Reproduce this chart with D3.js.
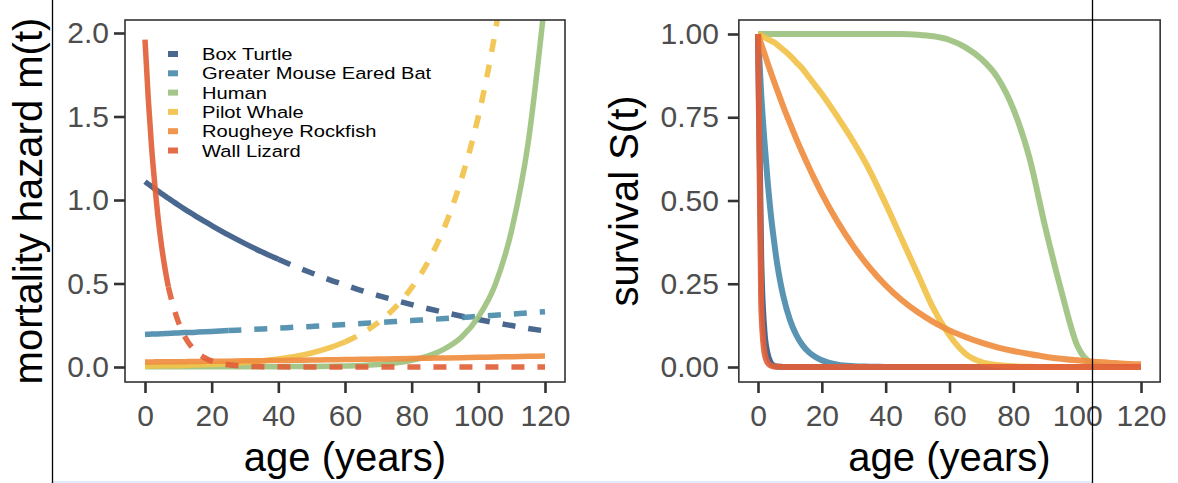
<!DOCTYPE html>
<html><head><meta charset="utf-8">
<script src="https://cdn.jsdelivr.net/npm/d3@7"></script>
<style>
body{margin:0;background:#fff;}
svg{display:block;font-family:"Liberation Sans",Arial,Helvetica,sans-serif;}
</style>
</head><body>
<script>
// ---------- data ----------
const ages = [0,1,2,3,4,5,6,7,8,10,12,14,16,18,20,25,30,35,40,45,50,55,60,65,70,75,80,85,90,95,100,105,110,115,120];
const species = ["Box Turtle","Greater Mouse Eared Bat","Human","Pilot Whale","Rougheye Rockfish","Wall Lizard"];
const speciesColors = ["#3b5b86","#4b8bab","#9dc17f","#f1c24a","#ef8d3f","#e1603a"];
const observedMaxAge = [40,25,120,60,120,7];

// mortality hazard m(t)
const hazardBoxTurtle = [1.110,1.095,1.081,1.066,1.052,1.038,1.024,1.010,0.997,0.970,0.944,0.919,0.894,0.870,0.847,0.791,0.739,0.690,0.645,0.602,0.563,0.525,0.491,0.458,0.428,0.400,0.373,0.349,0.326,0.304,0.284,0.265,0.248,0.231,0.216];
const hazardBat = [0.195,0.196,0.197,0.198,0.198,0.199,0.200,0.201,0.202,0.204,0.206,0.207,0.209,0.211,0.213,0.218,0.223,0.228,0.233,0.238,0.243,0.248,0.254,0.260,0.266,0.272,0.278,0.284,0.290,0.297,0.303,0.310,0.317,0.324,0.331];
const hazardHuman = [0.001,0.001,0.001,0.001,0.001,0.001,0.001,0.001,0.001,0.001,0.001,0.001,0.001,0.001,0.001,0.001,0.001,0.002,0.002,0.003,0.003,0.004,0.006,0.009,0.015,0.024,0.040,0.067,0.11,0.18,0.30,0.49,0.82,1.35,2.2];
const hazardPilotWhale = [0.005,0.005,0.006,0.006,0.006,0.007,0.007,0.007,0.008,0.008,0.009,0.011,0.012,0.014,0.015,0.020,0.027,0.036,0.048,0.063,0.084,0.113,0.150,0.200,0.267,0.356,0.475,0.633,0.845,1.13,1.50,2.00,2.67,3.56,4.75];
const hazardRockfish = [0.030,0.030,0.030,0.031,0.031,0.031,0.031,0.031,0.032,0.032,0.032,0.033,0.033,0.034,0.034,0.035,0.037,0.038,0.039,0.040,0.042,0.043,0.045,0.046,0.048,0.049,0.051,0.053,0.054,0.056,0.058,0.060,0.062,0.064,0.066];
const hazardWallLizard = [1.96,1.60,1.31,1.08,0.88,0.72,0.59,0.48,0.40,0.27,0.18,0.12,0.080,0.054,0.036,0.013,0.005,0.002,0.001,0,0,0,0,0,0,0,0,0,0,0,0,0,0,0,0];

// survival S(t)
const survivalBoxTurtle = [1,0.33,0.11,0.04,0.013,0.004,0.0015,0.0005,0.0002,0,0,0,0,0,0,0,0,0,0,0,0,0,0,0,0,0,0,0,0,0,0,0,0,0,0];
const survivalBat = [1,0.82,0.68,0.56,0.46,0.38,0.31,0.255,0.21,0.142,0.096,0.065,0.044,0.03,0.02,0.007,0.0025,0.001,0.0003,0,0,0,0,0,0,0,0,0,0,0,0,0,0,0,0];
const survivalHuman = [1,1,1,1,1,1,1,1,1,1,1,1,1,1,1,1,1,1,1,1,0.998,0.993,0.982,0.96,0.925,0.87,0.775,0.63,0.42,0.23,0.065,0.01,0.0005,0,0];
const survivalPilotWhale = [1,0.995,0.99,0.985,0.98,0.975,0.968,0.96,0.952,0.935,0.915,0.895,0.87,0.845,0.82,0.75,0.675,0.59,0.49,0.385,0.28,0.175,0.095,0.04,0.015,0.006,0.002,0.0005,0,0,0,0,0,0,0];
const survivalRockfish = [1,0.970,0.942,0.913,0.885,0.858,0.832,0.806,0.780,0.732,0.685,0.641,0.599,0.559,0.521,0.435,0.361,0.298,0.245,0.201,0.165,0.135,0.110,0.090,0.073,0.059,0.048,0.039,0.031,0.025,0.020,0.016,0.013,0.010,0.008];
const survivalWallLizard = [1,0.19,0.045,0.013,0.004,0.0015,0.0007,0.0004,0.0003,0.0002,0.0001,0.0001,0.0001,0.0001,0.0001,0.0001,0.0001,0.0001,0.0001,0.0001,0.0001,0.0001,0.0001,0.0001,0.0001,0.0001,0.0001,0.0001,0.0001,0.0001,0.0001,0.0001,0.0001,0.0001,0.0001];

const hazardSeries = [hazardBoxTurtle,hazardBat,hazardHuman,hazardPilotWhale,hazardRockfish,hazardWallLizard];
const survivalSeries = [survivalBoxTurtle,survivalBat,survivalHuman,survivalPilotWhale,survivalRockfish,survivalWallLizard];

const ageTicks = [0,20,40,60,80,100,120];
const hazardTicks = [0,0.5,1,1.5,2];
const hazardTickLabels = ["0.0","0.5","1.0","1.5","2.0"];
const survivalTicks = [0,0.25,0.5,0.75,1];
const survivalTickLabels = ["0.00","0.25","0.50","0.75","1.00"];

// ---------- layout ----------
const W = 1178, H = 483;
const svg = d3.select("body").append("svg").attr("width",W).attr("height",H);

const panelTop = 20, panelBottom = 382;
const tickFont = 30, titleFont = 40;

function makePanel(cfg){
  const x = d3.scaleLinear().domain([0,120]).range([cfg.x0, cfg.x120]);
  const y = d3.scaleLinear().domain([0,cfg.yMax]).range([cfg.y0, cfg.yTop]);
  const left = x(-6), right = x(126);
  const g = svg.append("g");
  const clipId = "clip"+cfg.id;
  svg.append("clipPath").attr("id",clipId).append("rect")
    .attr("x",left).attr("y",panelTop).attr("width",right-left).attr("height",panelBottom-panelTop);

  // axes
  const xAxis = d3.axisBottom(x).tickValues(ageTicks).tickFormat(d3.format("d")).tickSize(11).tickPadding(12);
  const gx = g.append("g").attr("transform",`translate(0,${panelBottom})`).call(xAxis);
  const yAxis = d3.axisLeft(y).tickValues(cfg.yTicks).tickFormat((d,i)=>cfg.yLabels[i]).tickSize(11).tickPadding(cfg.yPad);
  const gy = g.append("g").attr("transform",`translate(${left},0)`).call(yAxis);
  [gx,gy].forEach(a=>{
    a.select(".domain").remove();
    a.selectAll(".tick line").attr("stroke","#333").attr("stroke-width",2.6);
    a.selectAll(".tick text").attr("fill","#4d4d4d").attr("font-size",tickFont)
      .attr("font-family",'"Liberation Sans",Arial,Helvetica,sans-serif');
  });

  // lines
  const lines = g.append("g").attr("clip-path",`url(#${clipId})`);
  const line = d3.line().x(d=>x(d.age)).y(d=>y(d.v)).curve(d3.curveMonotoneX);
  cfg.series.forEach((vals,i)=>{
    const pts = ages.map((a,k)=>({age:a,v:vals[k]}));
    const cut = cfg.dashed ? observedMaxAge[i] : 200;
    const solid = pts.filter(p=>p.age<=cut);
    lines.append("path").attr("d",line(solid)).attr("fill","none")
      .attr("stroke",speciesColors[i]).attr("stroke-width",cfg.lw).attr("stroke-opacity",0.92)
      .attr("stroke-linecap","butt").attr("stroke-linejoin","round");
    if (cut < 120){
      const dash = pts.filter(p=>p.age>=cut);
      lines.append("path").attr("d",line(dash)).attr("fill","none")
        .attr("stroke",speciesColors[i]).attr("stroke-width",cfg.lw).attr("stroke-opacity",0.92)
        .attr("stroke-dasharray","13,13").attr("stroke-linecap","butt");
    }
  });

  // panel border
  g.append("rect").attr("x",left).attr("y",panelTop).attr("width",right-left).attr("height",panelBottom-panelTop)
    .attr("fill","none").attr("stroke","#333").attr("stroke-width",1.6);

  // titles
  g.append("text").attr("x",(left+right)/2).attr("y",471).attr("text-anchor","middle")
    .attr("font-size",titleFont).attr("fill","#000").text("age (years)");
  g.append("text").attr("transform",`translate(${cfg.yTitleX},${(panelTop+panelBottom)/2}) rotate(-90)`)
    .attr("text-anchor","middle").attr("font-size",titleFont).attr("fill","#000").text(cfg.yTitle);
  return {x,y,g};
}

const leftPanel = makePanel({id:"L", x0:145, x120:545, yMax:2, y0:367, yTop:33,
  yTicks:hazardTicks, yLabels:hazardTickLabels, yPad:5, series:hazardSeries, dashed:true, lw:5.5,
  yTitle:"mortality hazard m(t)", yTitleX:42});
const rightPanel = makePanel({id:"R", x0:758, x120:1141, yMax:1, y0:367, yTop:34,
  yTicks:survivalTicks, yLabels:survivalTickLabels, yPad:9, series:survivalSeries, dashed:false, lw:6,
  yTitle:"survival S(t)", yTitleX:638});

// legend
const legend = svg.append("g");
species.forEach((s,i)=>{
  const cy = 54 + i*19.3;
  legend.append("rect").attr("x",168).attr("y",cy-3).attr("width",10).attr("height",6).attr("fill",speciesColors[i]).attr("opacity",0.92);
  legend.append("text").attr("transform",`translate(202,${cy+6}) scale(1.22,1)`)
    .attr("font-size",16.5).attr("fill","#000").text(s);
});

// frame artefacts
svg.append("rect").attr("x",52).attr("y",481).attr("width",1040).attr("height",2).attr("fill","#ddeefa");
svg.append("line").attr("x1",52.5).attr("x2",52.5).attr("y1",0).attr("y2",H).attr("stroke","#000").attr("stroke-width",1.3);
svg.append("line").attr("x1",1092.5).attr("x2",1092.5).attr("y1",0).attr("y2",H).attr("stroke","#000").attr("stroke-width",1.3);
</script>
</body></html>
